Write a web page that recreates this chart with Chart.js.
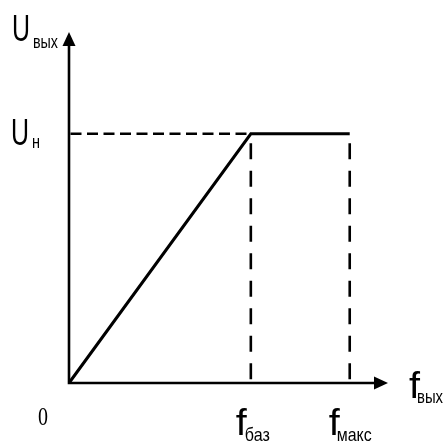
<!DOCTYPE html>
<html>
<head>
<meta charset="utf-8">
<script src="https://cdn.jsdelivr.net/npm/chart.js@4"></script>
<style>
  html, body { margin: 0; padding: 0; background: #fff; }
  #wrap { width: 444px; height: 443px; position: relative; }
</style>
</head>
<body>
<div id="wrap"><canvas id="c"></canvas></div>
<script>
// ---- data (schematic units) ----
const xMax = 100;          // end of f axis (arrow tip)
const yMax = 100;          // end of U axis (arrow tip)
const fBase = 57;          // f_баз
const fMaxVal = 88;        // f_макс
const uNom = 71;           // U_н
const curveX = [0, fBase, fMaxVal];
const curveY = [0, uNom, uNom];
// label texts
const yAxisLabel = ['U', 'вых'];
const uNomLabel = ['U', 'н'];
const xAxisLabel = ['f', 'вых'];
const fBaseLabel = ['f', 'баз'];
const fMaxLabel = ['f', 'макс'];
const originLabel = '0';

const pts = (xs, ys) => xs.map((x, i) => ({x, y: ys[i]}));

const solid = { borderColor: '#000', borderWidth: 2.6, pointRadius: 0, showLine: true, clip: false, tension: 0 };
const dashH = Object.assign({}, solid, { borderDash: [11, 5.5], borderDashOffset: 15 });
const dashV = Object.assign({}, solid, { borderDash: [16, 11.5], borderDashOffset: 18 });

function drawText(ctx, text, x, baseline, font, targetW) {
  ctx.save();
  ctx.font = font;
  const w = ctx.measureText(text).width;
  const s = targetW / w;
  ctx.translate(x, baseline);
  ctx.scale(s, 1);
  ctx.fillText(text, 0, 0);
  ctx.restore();
}

const decor = {
  id: 'decor',
  afterDatasetsDraw(chart) {
    const ctx = chart.ctx;
    const xs = chart.scales.x, ys = chart.scales.y;
    const x0 = xs.getPixelForValue(0), y0 = ys.getPixelForValue(0);
    const xT = xs.getPixelForValue(xMax), yT = ys.getPixelForValue(yMax);
    ctx.save();
    ctx.strokeStyle = '#000';
    ctx.fillStyle = '#000';
    ctx.lineWidth = 2.6;
    ctx.beginPath();
    ctx.moveTo(x0, y0 + 1.3); ctx.lineTo(x0, yT + 6);
    ctx.moveTo(x0 - 1.3, y0); ctx.lineTo(xT - 6, y0);
    ctx.stroke();
    // arrowheads
    ctx.beginPath();
    ctx.moveTo(x0, yT); ctx.lineTo(x0 - 6.5, yT + 14); ctx.lineTo(x0 + 6.5, yT + 14); ctx.closePath();
    ctx.fill();
    ctx.beginPath();
    ctx.moveTo(xT, y0); ctx.lineTo(xT - 14, y0 - 6.5); ctx.lineTo(xT - 14, y0 + 6.5); ctx.closePath();
    ctx.fill();

    const big = '37px "Liberation Sans", Arial, sans-serif';
    const small = '19px "Liberation Sans", Arial, sans-serif';
    ctx.textBaseline = 'alphabetic';
    // U_вых
    drawText(ctx, yAxisLabel[0], x0 - 57, yT + 9, big, 18);
    drawText(ctx, yAxisLabel[1], x0 - 36, yT + 16, small, 25);
    // U_н
    const yU = ys.getPixelForValue(uNom);
    drawText(ctx, uNomLabel[0], x0 - 58, yU + 11, big, 18);
    drawText(ctx, uNomLabel[1], x0 - 37, yU + 14, small, 8);
    // 0
    drawText(ctx, originLabel, x0 - 31, y0 + 42, '25px "Liberation Serif", "Times New Roman", serif', 10);
    // f_баз
    const xb = xs.getPixelForValue(fBase);
    drawText(ctx, fBaseLabel[0], xb - 15, y0 + 52, big, 11);
    drawText(ctx, fBaseLabel[1], xb - 6, y0 + 58, small, 25);
    // f_макс
    const xm = xs.getPixelForValue(fMaxVal);
    drawText(ctx, fMaxLabel[0], xm - 21, y0 + 52, big, 11);
    drawText(ctx, fMaxLabel[1], xm - 13, y0 + 58, small, 35);
    // f_вых
    drawText(ctx, xAxisLabel[0], xT + 21, y0 + 15, big, 11);
    drawText(ctx, xAxisLabel[1], xT + 29, y0 + 20, small, 26);
    ctx.restore();
  }
};

new Chart(document.getElementById('c'), {
  type: 'scatter',
  data: {
    datasets: [
      Object.assign({ data: pts([0, fBase], [uNom, uNom]) }, dashH),
      Object.assign({ data: pts([fBase, fBase], [uNom, 0]) }, dashV),
      Object.assign({ data: pts([fMaxVal, fMaxVal], [uNom, 0]) }, dashV),
      Object.assign({ data: pts(curveX, curveY) }, solid, { borderWidth: 3 })
    ]
  },
  options: {
    responsive: true,
    maintainAspectRatio: false,
    animation: false,
    layout: { padding: { left: 69, right: 56, top: 32, bottom: 60 } },
    plugins: { legend: { display: false }, tooltip: { enabled: false } },
    scales: {
      x: { type: 'linear', min: 0, max: xMax, display: false },
      y: { type: 'linear', min: 0, max: yMax, display: false }
    }
  },
  plugins: [decor]
});
</script>
</body>
</html>
